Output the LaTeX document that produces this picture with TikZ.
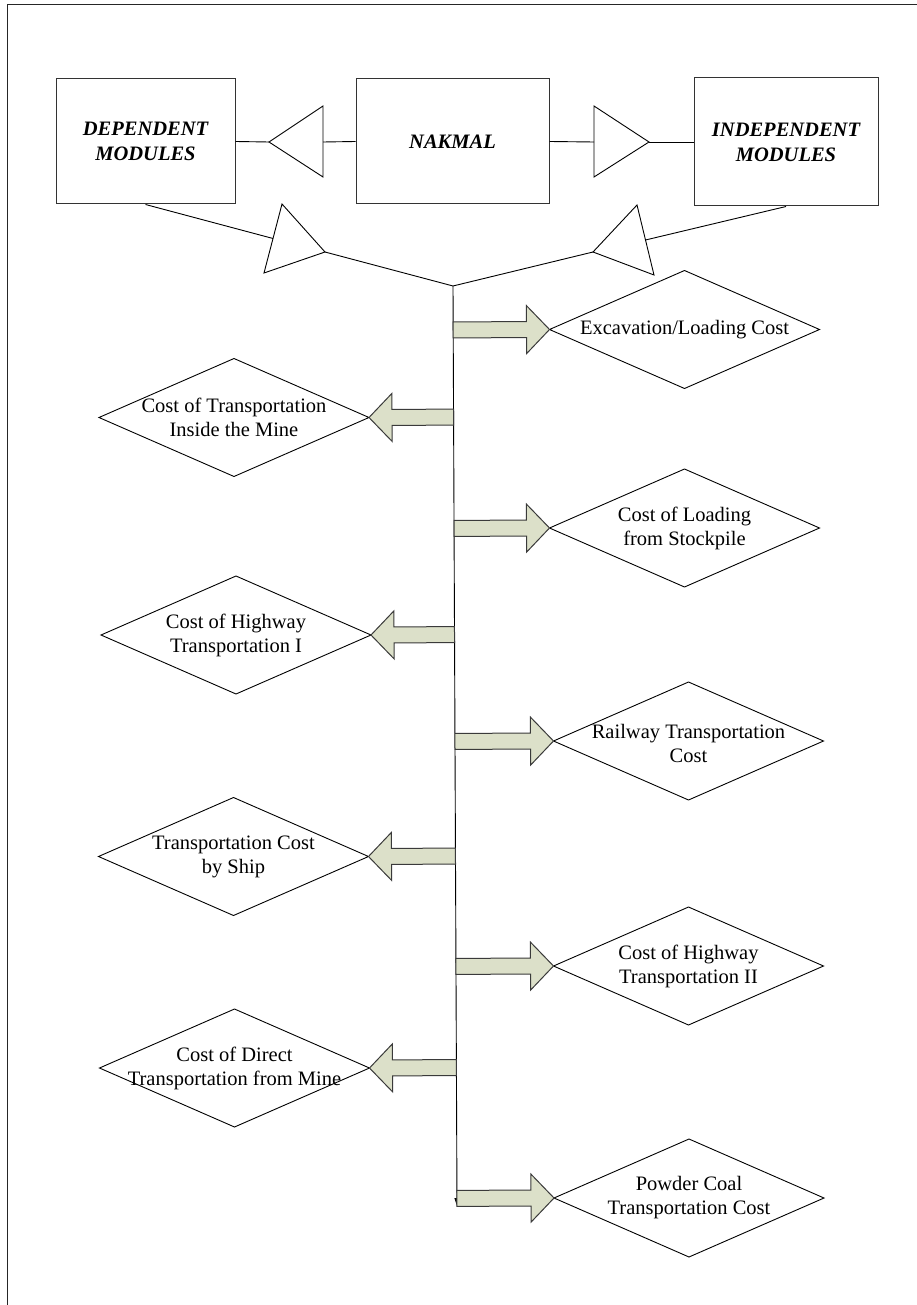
\documentclass[tikz,border=0pt]{standalone}
\usepackage{fontspec}
\setmainfont{Liberation Serif}
\usetikzlibrary{calc,shapes.geometric,arrows.meta}
\definecolor{arrowfill}{HTML}{DCE0C9}
\definecolor{arrowline}{HTML}{3A3A3A}
\tikzset{
  conn/.style={draw=black, line width=0.9pt},
  modbox/.style={draw=black!80, line width=1pt, minimum width=#1, minimum height=125pt,
    inner sep=0pt, align=center, font=\fontsize{20.5}{25}\selectfont\bfseries\itshape},
  costdia/.style={draw=black, line width=0.9pt, diamond, minimum width=270pt,
    minimum height=118pt, inner sep=0pt, outer sep=0pt},
  costlbl/.style={align=center, inner sep=0pt, font=\fontsize{20.5}{24}\selectfont},
  blockarrow/.style={fill=arrowfill, draw=arrowline, line width=1pt, line join=miter},
  tri/.style={draw=black, line width=0.9pt, line join=miter},
}
% block arrow from the trunk line (J)--(B) to a diamond vertex
\newcommand\costarrow[2]{%
  \coordinate (#1tail) at ($(J)!(#2)!(B)$);
  \coordinate (#1neck) at ($(#2)!23pt!(#1tail)$);
  \draw[blockarrow] ($(#1tail)!8pt!90:(#2)$) -- ($(#1neck)!8pt!-90:(#1tail)$)
    -- ($(#1neck)!24pt!-90:(#1tail)$) -- (#2) -- ($(#1neck)!24pt!90:(#1tail)$)
    -- ($(#1neck)!8pt!90:(#1tail)$) -- ($(#1tail)!8pt!-90:(#2)$) -- cycle;}
\begin{document}
\begin{tikzpicture}[x=1pt,y=-1pt]
\useasboundingbox (0,0) rectangle (917,1305);
% page frame
\draw[line width=1pt, black!85] (7,1305) -- (7,5) -- (917,5);

% module boxes
\node[modbox=179pt] (dep) at (145.5,141.5) {DEPENDENT\\MODULES};
\node[modbox=193pt] (nak) at (452.5,141.5) {NAKMAL};
\node[modbox=184pt, minimum height=128pt] (ind) at (786,142) {INDEPENDENT\\MODULES};

% triangle NAKMAL -> dependent modules
\coordinate (lt) at (269,142);
\coordinate (ltb) at (323,142);
\draw[tri] (lt) -- ($(ltb)+(0,-36)$) -- ($(ltb)+(0,35)$) -- cycle;
\draw[conn] (nak.west) -- (ltb);
\draw[conn] (lt) -- (dep.east);

% triangle NAKMAL -> independent modules
\coordinate (rtb) at (594,142);
\coordinate (rt) at (649,142);
\draw[tri] (rt) -- ($(rtb)+(0,-36)$) -- ($(rtb)+(0,35)$) -- cycle;
\draw[conn] (nak.east) -- (rtb);
\draw[conn] (rt) -- (ind.west);

% junction and trunk
\coordinate (J) at (453,286);
\coordinate (B) at (457,1206);

% triangle dependent modules -> junction
\coordinate (llb) at (273,238.5);
\coordinate (llt) at (325,252);
\draw[tri] (llt) -- (282,204) -- (264,273) -- cycle;
\draw[conn] (dep.south) -- (llb);
\draw[conn] (llt) -- (J);

% triangle independent modules -> junction
\coordinate (lrb) at (645.5,240);
\coordinate (lrt) at (593,252);
\draw[tri] (lrt) -- (637,205) -- (654,275) -- cycle;
\draw[conn] (ind.south) -- (lrb);
\draw[conn] (lrt) -- (J);

\draw[conn, -{Triangle[length=8pt,width=5pt]}] (J) -- (B);

% cost modules
\node[costdia] (d1) at (684.5,329.5) {};
\node[costlbl] (d1t) at (d1) {Excavation/Loading Cost};
\node[costdia] (d2) at (234,417.5) {};
\node[costlbl] (d2t) at (d2) {Cost of Transportation\\Inside the Mine};
\node[costdia] (d3) at (684.5,528) {};
\node[costlbl] (d3t) at (d3) {Cost of Loading\\from Stockpile};
\node[costdia] (d4) at (236,635) {};
\node[costlbl] (d4t) at (d4) {Cost of Highway\\Transportation I};
\node[costdia] (d5) at (688.5,741) {};
\node[costlbl] (d5t) at ($(d5)+(0,2)$) {Railway Transportation\\Cost};
\node[costdia] (d6) at (233.5,856.5) {};
\node[costlbl] (d6t) at (d6) {Transportation Cost\\by Ship};
\node[costdia] (d7) at (688.5,966) {};
\node[costlbl] (d7t) at (d7) {Cost of Highway\\Transportation II};
\node[costdia] (d8) at (234.5,1068) {};
\node[costlbl] (d8t) at (d8) {Cost of Direct\\Transportation from Mine};
\node[costdia] (d9) at (689,1198) {};
\node[costlbl] (d9t) at (d9) {Powder Coal\\Transportation Cost};

% block arrows from trunk
\costarrow{a1}{d1.west}
\costarrow{a2}{d2.east}
\costarrow{a3}{d3.west}
\costarrow{a4}{d4.east}
\costarrow{a5}{d5.west}
\costarrow{a6}{d6.east}
\costarrow{a7}{d7.west}
\costarrow{a8}{d8.east}
\costarrow{a9}{d9.west}
\end{tikzpicture}
\end{document}
